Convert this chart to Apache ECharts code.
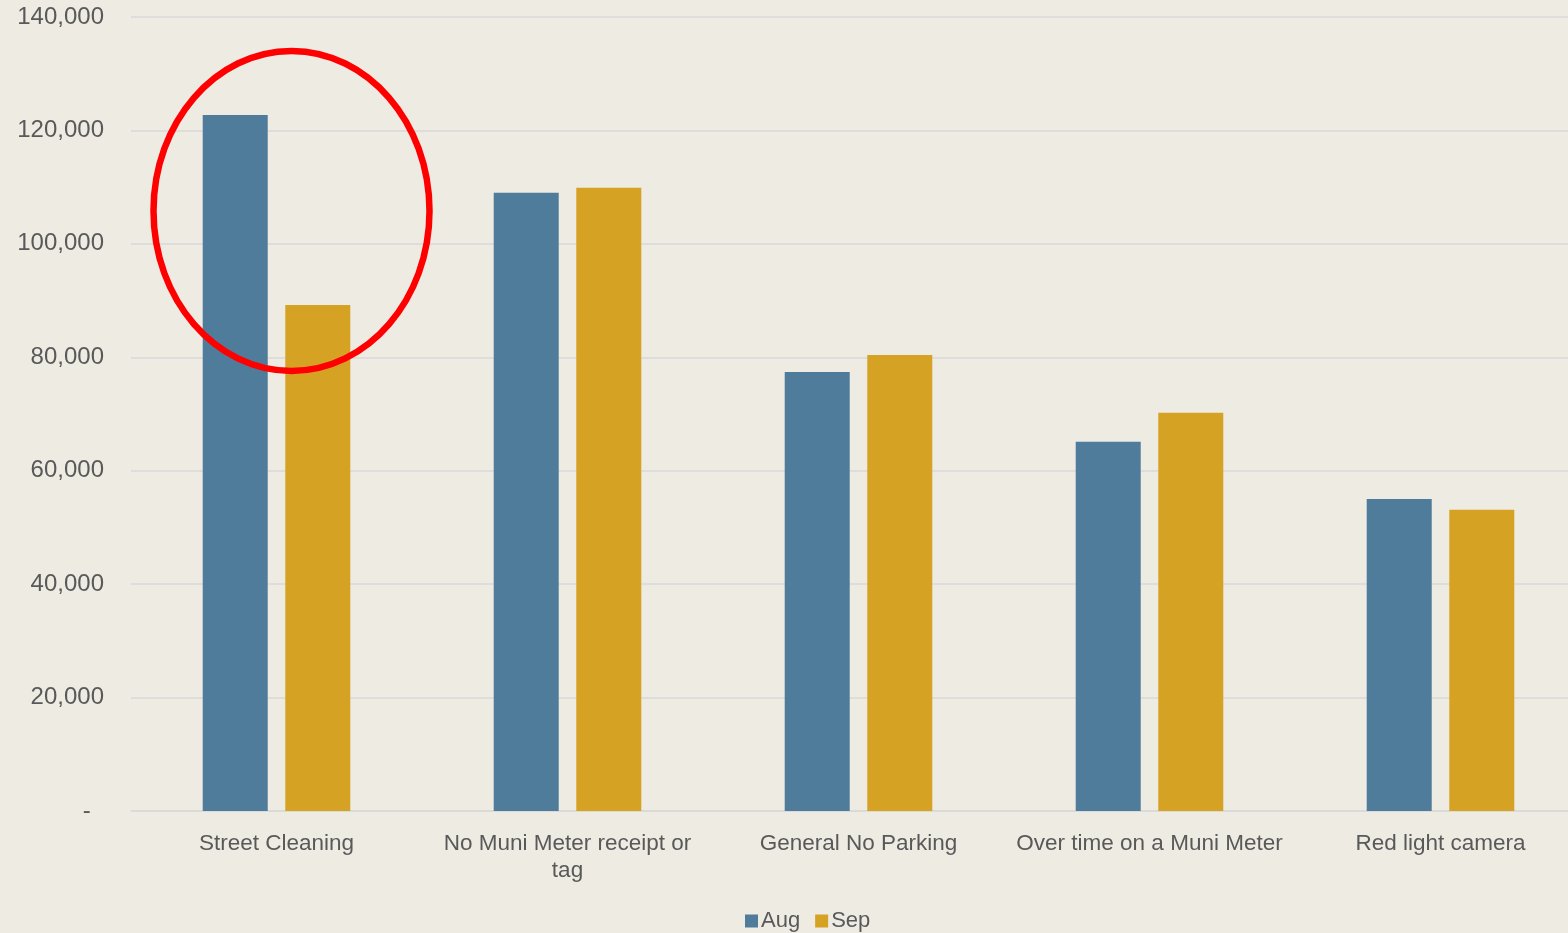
<!DOCTYPE html>
<html>
<head>
<meta charset="utf-8">
<script src="https://cdn.jsdelivr.net/npm/echarts@6/dist/echarts.min.js"></script>
<style>
  html, body { margin: 0; padding: 0; background: #eeebe3; }
  #chart { width: 1568px; height: 933px; }
</style>
</head>
<body>
<div id="chart"></div>
<script>
const categories = [
  'Street Cleaning',
  'No Muni Meter receipt or\ntag',
  'General No Parking',
  'Over time on a Muni Meter',
  'Red light camera'
]
const augValues = [122700, 109000, 77400, 65100, 55000]
const sepValues = [89200, 109900, 80400, 70200, 53100]
const yTicks = [0, 20000, 40000, 60000, 80000, 100000, 120000, 140000]

// highlight ellipse around the first category
const highlightCategory = 'Street Cleaning'
const highlightValue = 105800

const font = '"Liberation Sans", Arial, sans-serif'
const textColor = '#595959'

const chart = echarts.init(document.getElementById('chart'))

chart.setOption({
  backgroundColor: '#eeebe3',
  animation: false,
  textStyle: { fontFamily: font },
  grid: { left: 131, width: 1455, top: 17, bottom: 122, outerBoundsMode: 'none', containLabel: false },
  legend: {
    top: 905,
    left: 740,
    itemWidth: 13,
    itemHeight: 13,
    itemGap: 15,
    icon: 'rect',
    textStyle: { color: textColor, fontSize: 22, fontFamily: font, padding: [0, 0, 0, -2] },
    data: ['Aug', 'Sep']
  },
  xAxis: {
    type: 'category',
    data: categories,
    axisTick: { show: false },
    axisLine: { lineStyle: { color: '#d9d9d9', width: 1.5 } },
    axisLabel: { color: textColor, fontSize: 22.5, margin: 19, lineHeight: 27, interval: 0 }
  },
  yAxis: {
    type: 'value',
    min: yTicks[0],
    max: yTicks[yTicks.length - 1],
    interval: 20000,
    axisLine: { show: false },
    axisTick: { show: false },
    splitLine: { lineStyle: { color: '#d9d9d9', width: 1.5 } },
    axisLabel: {
      color: textColor,
      fontSize: 24,
      margin: 27,
      formatter: v => v === 0 ? '-  ' : v.toLocaleString('en-US')
    }
  },
  series: [
    {
      name: 'Aug',
      type: 'bar',
      data: augValues,
      barWidth: 65,
      barGap: '27%',
      itemStyle: { color: '#4e7c9a' }
    },
    {
      name: 'Sep',
      type: 'bar',
      data: sepValues,
      barWidth: 65,
      itemStyle: { color: '#d6a224' }
    }
  ]
})

const center = chart.convertToPixel({ gridIndex: 0 }, [highlightCategory, highlightValue])
chart.setOption({
  graphic: [{
    type: 'ellipse',
    shape: { cx: center[0] + 15, cy: center[1], rx: 138, ry: 160 },
    style: { fill: 'none', stroke: '#ff0000', lineWidth: 6.5 },
    z: 100
  }]
})
</script>
</body>
</html>
